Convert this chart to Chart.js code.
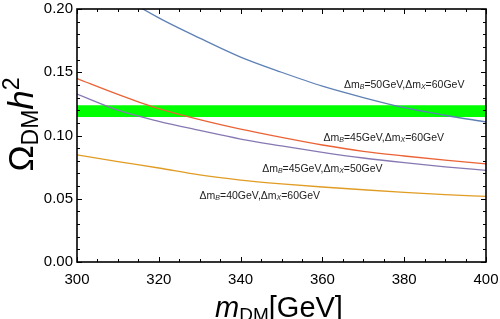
<!DOCTYPE html>
<html>
<head>
<meta charset="utf-8">
<script src="https://cdn.jsdelivr.net/npm/chart.js@4.4.0/dist/chart.umd.min.js"></script>
<style>
html, body { margin: 0; padding: 0; background: #fff; }
</style>
</head>
<body>
<canvas id="relicChart" width="500" height="319"></canvas>
<script>
// dark matter mass [GeV]
const masses = [300, 310, 320, 330, 340, 350, 360, 370, 380, 390, 400];
// relic density for each mass splitting
const omegaB50X60 = [0.235, 0.212, 0.193, 0.177, 0.162, 0.150, 0.139, 0.130, 0.122, 0.116, 0.1107];
const omegaB45X60 = [0.145, 0.1325, 0.1212, 0.1125, 0.1050, 0.0985, 0.0925, 0.0875, 0.0838, 0.0805, 0.0775];
const omegaB45X50 = [0.1327, 0.1200, 0.1112, 0.1040, 0.0972, 0.0918, 0.0867, 0.0822, 0.0785, 0.0752, 0.0725];
const omegaB40X60 = [0.0847, 0.0793, 0.0743, 0.0688, 0.0648, 0.0618, 0.0593, 0.0571, 0.0551, 0.0533, 0.0518];
// observed band
const bandMasses = [300, 400];
const bandLow = [0.1146, 0.1146];
const bandHigh = [0.124, 0.124];
// axis ticks
const xTicks = [300, 320, 340, 360, 380, 400];
const yTicks = [0, 0.05, 0.10, 0.15, 0.20];

// curve labels: [dm_B, dm_X, mass, omega] where the label is centred
const curveLabels = [
    ['50', '60', 380, 0.140],
    ['45', '60', 375, 0.098],
    ['45', '50', 360, 0.0735],
    ['40', '60', 344.7, 0.0522]
];

const FONT = '"Liberation Sans", Arial, sans-serif';

function pts(xs, ys) {
    return xs.map((m, i) => ({ x: m, y: ys[i] }));
}

function curve(values, color) {
    return {
        data: pts(masses, values),
        borderColor: color,
        borderWidth: 1.3,
        pointRadius: 0,
        fill: false,
        cubicInterpolationMode: 'monotone'
    };
}

// draw a run of text pieces, each [text, font, dy], centred on x
function richText(ctx, parts, x, y) {
    let total = 0;
    parts.forEach(p => { ctx.font = p[1]; total += ctx.measureText(p[0]).width; });
    let cx = x - total / 2;
    parts.forEach(p => {
        ctx.font = p[1];
        ctx.fillText(p[0], cx, y + (p[2] || 0));
        cx += ctx.measureText(p[0]).width;
    });
}

const frameAndText = {
    id: 'frameAndText',
    afterDraw(chart) {
        const { ctx, chartArea: a, scales: { x, y } } = chart;
        ctx.save();
        ctx.strokeStyle = '#000';
        ctx.lineWidth = 1;
        ctx.beginPath();
        // x ticks bottom and top (inward)
        for (let m = 300; m <= 400; m += 5) {
            const px = Math.round(x.getPixelForValue(m)) + 0.5;
            const len = m % 20 === 0 ? 5 : 3;
            ctx.moveTo(px, a.bottom); ctx.lineTo(px, a.bottom - len);
            ctx.moveTo(px, a.top); ctx.lineTo(px, a.top + len);
        }
        // y ticks left and right (inward)
        for (let k = 0; k <= 20; k++) {
            const py = Math.round(y.getPixelForValue(k / 100)) + 0.5;
            const len = k % 5 === 0 ? 5 : 3;
            ctx.moveTo(a.left, py); ctx.lineTo(a.left + len, py);
            ctx.moveTo(a.right, py); ctx.lineTo(a.right - len, py);
        }
        ctx.stroke();
        ctx.lineWidth = 1.6;
        ctx.strokeRect(a.left, a.top, a.right - a.left, a.bottom - a.top);

        // curve labels
        ctx.fillStyle = '#222';
        ctx.textBaseline = 'middle';
        curveLabels.forEach(l => {
            const n = '10.5px ' + FONT, s = 'italic 7px ' + FONT;
            richText(ctx, [
                ['\u0394m', n], ['B', s, 2.5], ['=' + l[0] + 'GeV,\u0394m', n],
                ['X', s, 2.5], ['=' + l[1] + 'GeV', n]
            ], x.getPixelForValue(l[2]), y.getPixelForValue(l[3]));
        });

        // axis titles
        ctx.fillStyle = '#000';
        ctx.textBaseline = 'alphabetic';
        richText(ctx, [
            ['m', 'italic 29px ' + FONT], ['DM', '19px ' + FONT, 4], ['[GeV]', '29px ' + FONT]
        ], 279, 317);
        ctx.translate(33, 124.5);
        ctx.rotate(-Math.PI / 2);
        richText(ctx, [
            ['\u03A9', '35px ' + FONT], ['DM', '23px ' + FONT, 5],
            ['h', 'italic 35px ' + FONT], ['2', '23px ' + FONT, -14]
        ], 0, 0);
        ctx.restore();
    }
};

new Chart(document.getElementById('relicChart').getContext('2d'), {
    type: 'line',
    data: {
        datasets: [
            curve(omegaB50X60, '#5E81B5'),
            curve(omegaB45X60, '#EB6235'),
            curve(omegaB45X50, '#8778B3'),
            curve(omegaB40X60, '#E19C24'),
            { data: pts(bandMasses, bandLow), borderWidth: 0, pointRadius: 0, fill: false },
            { data: pts(bandMasses, bandHigh), borderWidth: 0, pointRadius: 0,
              backgroundColor: '#00FF00', fill: '-1' }
        ]
    },
    options: {
        responsive: false,
        animation: false,
        layout: { padding: { left: 0, right: 14, top: 9, bottom: 0 } },
        plugins: { legend: { display: false }, tooltip: { enabled: false } },
        scales: {
            x: {
                type: 'linear', min: 300, max: 400,
                grid: { display: false, drawTicks: false },
                border: { display: false },
                afterBuildTicks: s => { s.ticks = xTicks.map(v => ({ value: v })); },
                afterFit: s => { s.height = 57; s.paddingLeft = 0; s.paddingRight = 0; },
                ticks: { color: '#000', font: { family: FONT, size: 15 }, padding: 9, maxRotation: 0 }
            },
            y: {
                min: 0, max: 0.2,
                grid: { display: false, drawTicks: false },
                border: { display: false },
                afterBuildTicks: s => { s.ticks = yTicks.map(v => ({ value: v })); },
                afterFit: s => { s.width = 77; s.paddingTop = 0; s.paddingBottom = 0; },
                ticks: { color: '#000', font: { family: FONT, size: 15 }, padding: 4,
                         callback: v => v.toFixed(2) }
            }
        }
    },
    plugins: [frameAndText]
});
</script>
</body>
</html>
